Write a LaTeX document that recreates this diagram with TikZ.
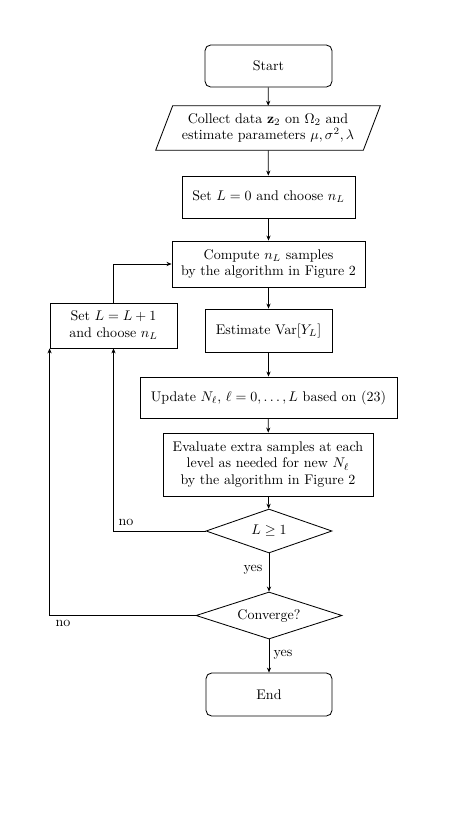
\documentclass[tikz,border=0pt]{standalone}
\usepackage{amsmath,amssymb}
\usetikzlibrary{shapes.geometric,arrows.meta}
\begin{document}
\begin{tikzpicture}[x=0.7143pt,y=-0.7143pt,
  box/.style={draw,line width=0.6pt,rectangle,align=center,inner sep=2pt},
  rbox/.style={box,rounded corners=4pt},
  dec/.style={draw,line width=0.6pt,diamond,inner sep=0pt,align=center},
  arr/.style={line width=0.5pt,-{Stealth[length=3.6pt,width=3pt]}},
  lbl/.style={inner sep=1pt}]
\useasboundingbox (0,0) rectangle (460,817);
\node[rbox,minimum width=90.7pt,minimum height=30pt] (start) at (268.5,66) {Start};
\node[align=center,inner sep=2pt,minimum width=147.9pt,minimum height=31.4pt] (collect) at (268,128)
  {Collect data $\mathbf{z}_2$ on $\Omega_2$ and\\ estimate parameters $\mu,\sigma^2,\lambda$};
\draw[line width=0.6pt] ([xshift=6.07pt]collect.north west) -- ([xshift=6.07pt]collect.north east)
  -- ([xshift=-6.07pt]collect.south east) -- ([xshift=-6.07pt]collect.south west) -- cycle;
\node[box,minimum width=123.6pt,minimum height=30pt] (setzero) at (268.5,197) {Set $L=0$ and choose $n_L$};
\node[box,minimum width=137.9pt,minimum height=32.9pt] (compute) at (268.5,264) {Compute $n_L$ samples\\ by the algorithm in Figure 2};
\node[box,minimum width=90.7pt,minimum height=30.7pt] (estimate) at (268.5,330.5) {Estimate $\operatorname{Var}[Y_L]$};
\node[box,minimum width=90.7pt,minimum height=32.1pt] (setone) at (113.5,325.5) {Set $L=L+1$\\ and choose $n_L$};
\node[box,minimum width=183.6pt,minimum height=29.3pt] (update) at (268.5,397.5) {Update $N_\ell$, $\ell=0,\ldots,L$ based on (23)};
\node[box,minimum width=150pt,minimum height=45pt] (evaluate) at (268,464.5) {Evaluate extra samples at each\\ level as needed for new $N_\ell$\\ by the algorithm in Figure 2};
\node[dec,aspect=2.86,minimum width=90pt,minimum height=31.4pt] (lone) at (269,531) {$L\geq 1$};
\node[dec,aspect=3.1,minimum width=104.3pt,minimum height=33.6pt] (conv) at (269,615.5) {Converge?};
\node[rbox,minimum width=90pt,minimum height=30.7pt] (end) at (269,694.5) {End};
\draw[arr] (start) -- (collect);
\draw[arr] (collect) -- (setzero);
\draw[arr] (setzero) -- (compute);
\draw[arr] (compute) -- (estimate);
\draw[arr] (estimate) -- (update);
\draw[arr] (update) -- (evaluate);
\draw[arr] (evaluate) -- (lone);
\draw[arr] (lone) -- (conv);
\draw[arr] (conv) -- (end);
\draw[arr] (lone.west) -| (setone.south);
\draw[arr] (conv.west) -| (setone.south west);
\draw[arr] (setone.north) |- (compute.west);
\node[lbl] (nol) at (126,522) {no};
\node[lbl] (yesl) at (253,570) {yes};
\node[lbl] (noc) at (63,623) {no};
\node[lbl] (yesc) at (283,655) {yes};
\end{tikzpicture}
\end{document}
